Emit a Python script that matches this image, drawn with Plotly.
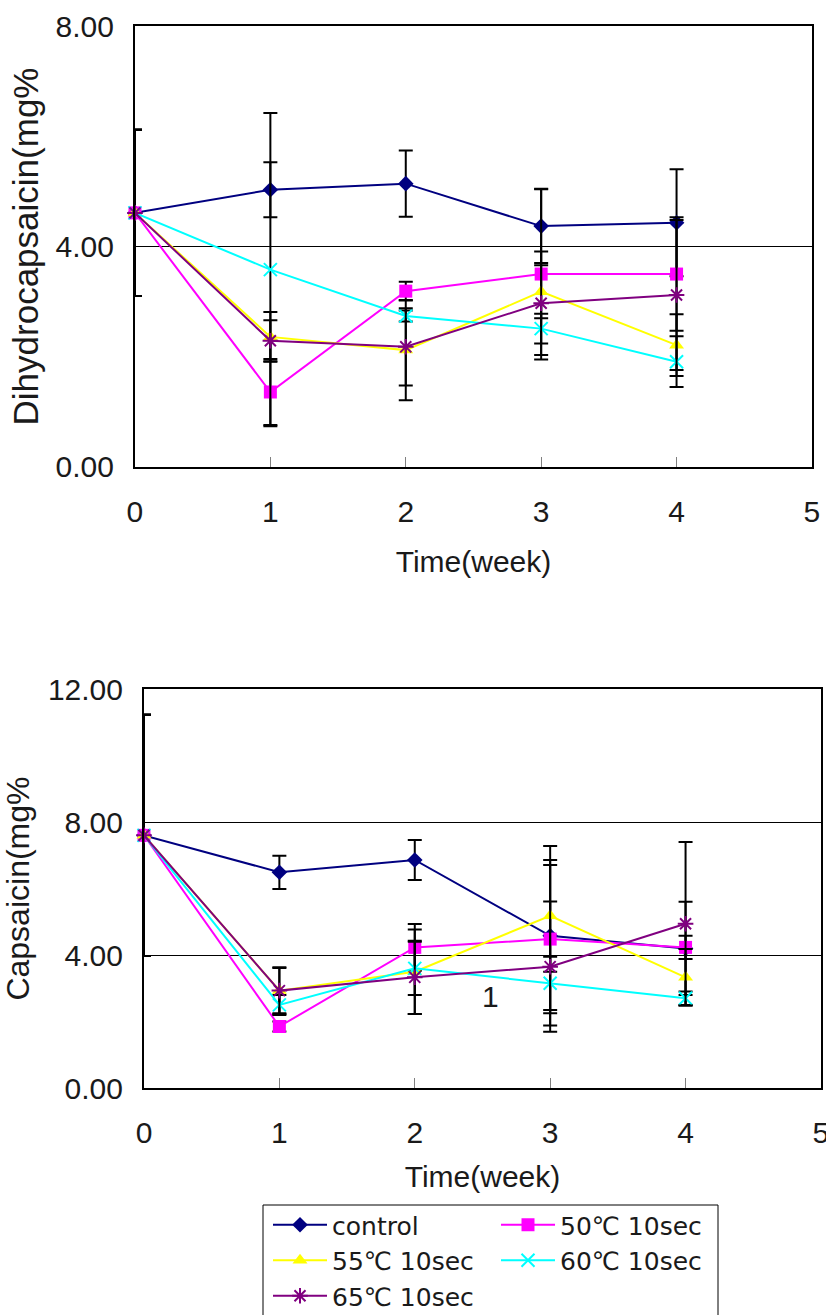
import plotly.graph_objects as go

weeks = [0, 1, 2, 3, 4]
series_names = ["control", "50℃ 10sec", "55℃ 10sec", "60℃ 10sec", "65℃ 10sec"]
legend_ids = ["legend", "legend2", "legend", "legend2", "legend"]
x_ticks = [0, 1, 2, 3, 4, 5]

# Dihydrocapsaicin (mg%)
dihydro_control = [4.61, 5.03, 5.14, 4.37, 4.43]
dihydro_control_err = [1.51, 0.50, 0.60, 0.67, 0.97]
dihydro_50 = [4.61, 1.36, 3.19, 3.50, 3.50]
dihydro_50_err = [1.51, 0.60, 0.17, 1.55, 1.03]
dihydro_55 = [4.61, 2.36, 2.12, 3.18, 2.21]
dihydro_55_err = [1.51, 0.45, 0.91, 0.48, 0.56]
dihydro_60 = [4.61, 3.58, 2.74, 2.51, 1.91]
dihydro_60_err = [1.51, 2.84, 0.10, 0.27, 0.46]
dihydro_65 = [4.61, 2.29, 2.18, 2.97, 3.12]
dihydro_65_err = [1.51, 0.37, 0.70, 0.94, 1.36]

# Capsaicin (mg%)
cap_control = [7.60, 6.49, 6.86, 4.58, 4.20]
cap_control_err = [3.63, 0.50, 0.60, 2.70, 1.40]
cap_50 = [7.60, 1.85, 4.23, 4.48, 4.23]
cap_50_err = [3.63, 0.15, 0.70, 2.23, 0.35]
cap_55 = [7.60, 2.93, 3.50, 5.18, 3.33]
cap_55_err = [3.63, 0.68, 1.27, 1.68, 0.85]
cap_60 = [7.60, 2.50, 3.60, 3.15, 2.70]
cap_60_err = [3.63, 0.30, 0.80, 0.80, 0.20]
cap_65 = [7.60, 2.93, 3.33, 3.65, 4.94]
cap_65_err = [3.63, 0.70, 1.10, 1.96, 2.46]

colors = ["#000080", "#FF00FF", "#FFFF00", "#00FFFF", "#800080"]
symbols = ["diamond", "square", "triangle-up", "x-thin-open", "asterisk-open"]
sizes = [12, 13, 13, 13, 13]

top_vals = [dihydro_control, dihydro_50, dihydro_55, dihydro_60, dihydro_65]
top_errs = [dihydro_control_err, dihydro_50_err, dihydro_55_err, dihydro_60_err, dihydro_65_err]
bot_vals = [cap_control, cap_50, cap_55, cap_60, cap_65]
bot_errs = [cap_control_err, cap_50_err, cap_55_err, cap_60_err, cap_65_err]

FONT = "Liberation Sans, Arial, Noto Sans CJK KR, sans-serif"
LEGEND_FONT = "DejaVu Sans, Noto Sans CJK KR, sans-serif"
W, H = 826, 1315

fig = go.Figure()

def add_series(vals, errs, xa, ya, show):
    for i in range(len(series_names)):
        mk = dict(symbol=symbols[i], size=sizes[i], color=colors[i])
        if symbols[i].endswith("open"):
            mk["line"] = dict(color=colors[i], width=2)
        fig.add_trace(go.Scatter(
            x=weeks, y=vals[i], name=series_names[i],
            mode="lines+markers",
            line=dict(color=colors[i], width=2),
            marker=mk,
            error_y=dict(type="data", array=errs[i], visible=True,
                         color="black", thickness=2, width=7),
            xaxis=xa, yaxis=ya, legendgroup=series_names[i],
            legend=legend_ids[i],
            showlegend=show, cliponaxis=False,
        ))

add_series(top_vals, top_errs, "x", "y", True)
add_series(bot_vals, bot_errs, "x2", "y2", False)

common_x = dict(
    range=[0, 5], tickvals=x_ticks, ticks="inside", ticklen=10, tickcolor="#808080",
    tickwidth=1, showline=True, mirror=True, linecolor="black", linewidth=2,
    showgrid=False, zeroline=False, tickfont=dict(size=30),
    ticklabelstandoff=17, automargin=False, ticklabeloverflow="allow",
)
common_y = dict(
    showline=True, mirror=True, linecolor="black", linewidth=2,
    showgrid=True, gridcolor="black", gridwidth=1, zeroline=False,
    ticks="", tickformat=".2f", tickfont=dict(size=30), ticklabelstandoff=13,
    automargin=False,
)

legend_common = dict(
    yanchor="top", xanchor="left", orientation="v",
    y=(H - 1202) / H, borderwidth=0, bgcolor="rgba(0,0,0,0)",
    font=dict(size=25, family=LEGEND_FONT, color="#1a1a1a"),
    itemwidth=54, tracegroupgap=0,
)

fig.update_layout(
    template="none",
    width=W, height=H,
    margin=dict(l=0, r=0, t=0, b=0, autoexpand=False),
    paper_bgcolor="white", plot_bgcolor="white",
    font=dict(family=FONT, color="#1a1a1a", size=30),
    xaxis=dict(domain=[0.1634, 0.983], anchor="y",
               title=dict(text="Time(week)", font=dict(size=30), standoff=24), **common_x),
    yaxis=dict(domain=[0.6449, 0.9802], anchor="x", range=[0, 8], tickvals=[0, 4, 8],
               title=dict(text="Dihydrocapsaicin(mg%", font=dict(size=35), standoff=6), **common_y),
    xaxis2=dict(domain=[0.1743, 0.9939], anchor="y2",
                title=dict(text="Time(week)", font=dict(size=30), standoff=18), **common_x),
    yaxis2=dict(domain=[0.1726, 0.4760], anchor="x2", range=[0, 12], tickvals=[0, 4, 8, 12],
                title=dict(text="Capsaicin(mg%", font=dict(size=32), standoff=13), **common_y),
    legend=dict(x=268 / W, **legend_common),
    legend2=dict(x=496 / W, **legend_common),
    shapes=[dict(type="rect", xref="paper", yref="paper",
                 x0=263 / W, x1=718 / W, y0=(H - 1325) / H, y1=(H - 1205) / H,
                 line=dict(color="black", width=1), fillcolor="rgba(0,0,0,0)")],
    annotations=[dict(text="1", x=2.56, y=2.74, xref="x2", yref="y2",
                      showarrow=False, font=dict(size=30))],
    showlegend=True,
)

fig.write_html(
    "out.html",
    config={"displayModeBar": False},
    post_script="document.body.style.margin='0px';document.body.style.overflow='hidden';",
)
